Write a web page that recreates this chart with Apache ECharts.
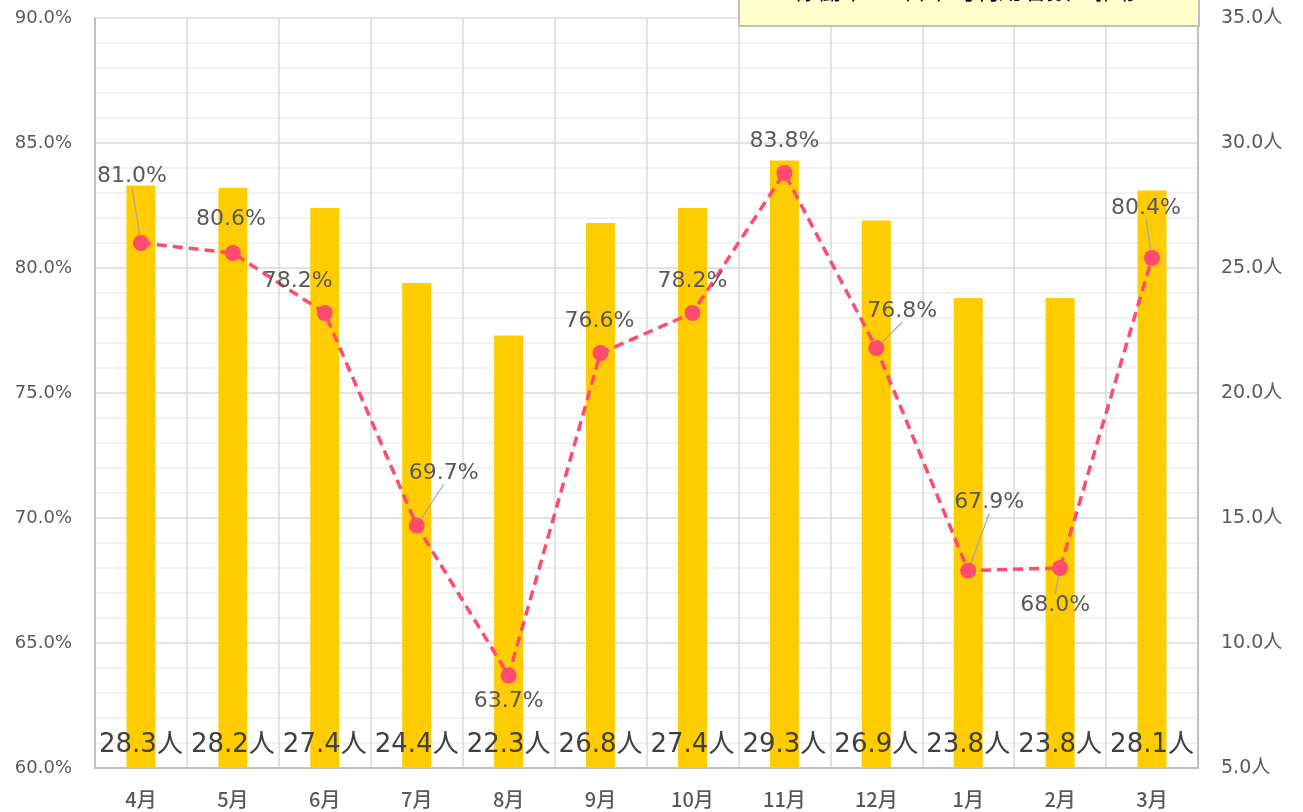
<!DOCTYPE html>
<html><head><meta charset="utf-8">
<script src="https://cdn.jsdelivr.net/npm/echarts@6/dist/echarts.min.js"></script>
<style>html,body{margin:0;padding:0;background:#fff}#c{width:1303px;height:812px}</style>
</head><body><div id="c"></div>
<script>
const months = ['4月','5月','6月','7月','8月','9月','10月','11月','12月','1月','2月','3月'];
const avgUsers = [28.3, 28.2, 27.4, 24.4, 22.3, 26.8, 27.4, 29.3, 26.9, 23.8, 23.8, 28.1];
const rate = [81.0, 80.6, 78.2, 69.7, 63.7, 76.6, 78.2, 83.8, 76.8, 67.9, 68.0, 80.4];
const titleText = '稼働率と1日平均利用者数の推移';

// label placement offsets (style only)
const labelShift = [[-9,-43],[-2,-10],[-27,-8],[27,-28],[0,50],[-1,-8],[0,-8],[0,-8],[26,-13],[21,-44],[-5,61],[-6,-26]];
const showGuide = [true,false,false,true,false,false,false,false,true,true,true,true];

const font = '"DejaVu Sans", "Noto Sans CJK JP", sans-serif';
const cjk = '"Noto Sans CJK JP", sans-serif';
const chart = echarts.init(document.getElementById('c'));
chart.setOption({
  animation: false,
  textStyle: {fontFamily: font},
  grid: {left: 95, right: 105, top: 18, bottom: 44},
  xAxis: {
    type: 'category', data: months,
    axisLine: {show: true, lineStyle: {color: '#BFBFBF', width: 2}},
    axisTick: {show: false},
    axisLabel: {margin: 21, fontSize: 20, color: '#595959', fontFamily: cjk, fontWeight: 500},
    splitLine: {show: true, lineStyle: {color: '#D9D9D9', width: 1.5}}
  },
  yAxis: [{
    type: 'value', min: 60, max: 90, interval: 5,
    axisLine: {show: true, lineStyle: {color: '#BFBFBF', width: 2}},
    axisTick: {show: false},
    axisLabel: {margin: 23, fontSize: 18, color: '#595959', fontFamily: font,
      formatter: v => v.toFixed(1) + '%'},
    splitLine: {show: true, lineStyle: {color: '#D9D9D9', width: 1.5}},
    minorTick: {show: false, splitNumber: 5},
    minorSplitLine: {show: true, lineStyle: {color: '#EDEDED', width: 1.5}}
  }, {
    type: 'value', min: 5, max: 35, interval: 5,
    axisLine: {show: true, lineStyle: {color: '#BFBFBF', width: 2}},
    axisTick: {show: false},
    axisLabel: {margin: 23, fontSize: 19, color: '#595959', fontFamily: font,
      formatter: v => v.toFixed(1) + '人'},
    splitLine: {show: false}
  }],
  series: [{
    type: 'bar', yAxisIndex: 1, data: avgUsers, barWidth: 29,
    itemStyle: {color: '#FFCC00'},
    label: {show: true, position: 'insideBottom', distance: 10, fontSize: 26,
      color: '#404040', fontFamily: font, formatter: p => p.value.toFixed(1) + '人'}
  }, {
    type: 'line', yAxisIndex: 0, z: 5,
    data: rate.map((v, i) => ({value: v, labelLine: {show: showGuide[i]}})),
    symbol: 'circle', symbolSize: 16,
    itemStyle: {color: '#FF4B6E'},
    lineStyle: {color: '#FF4B6E', width: 3.5, type: [10, 6]},
    label: {show: true, position: 'top', distance: 5, fontSize: 22, color: '#595959',
      fontFamily: font, formatter: p => p.value.toFixed(1) + '%'},
    labelLine: {show: true, lineStyle: {color: '#A6A6A6', width: 1.2}},
    labelLayout: p => ({dx: labelShift[p.dataIndex][0], dy: labelShift[p.dataIndex][1]})
  }],
  graphic: [{
    type: 'rect', left: 738, top: -10, z: 100,
    shape: {width: 460, height: 35},
    style: {fill: '#FFFFCC', stroke: '#BFBFBF', lineWidth: 2}
  }, {
    type: 'text', z: 101, x: 968, y: 2,
    style: {text: titleText, fontSize: 24, fill: '#000', fontFamily: cjk,
      align: 'center', verticalAlign: 'bottom'}
  }]
});
</script></body></html>
